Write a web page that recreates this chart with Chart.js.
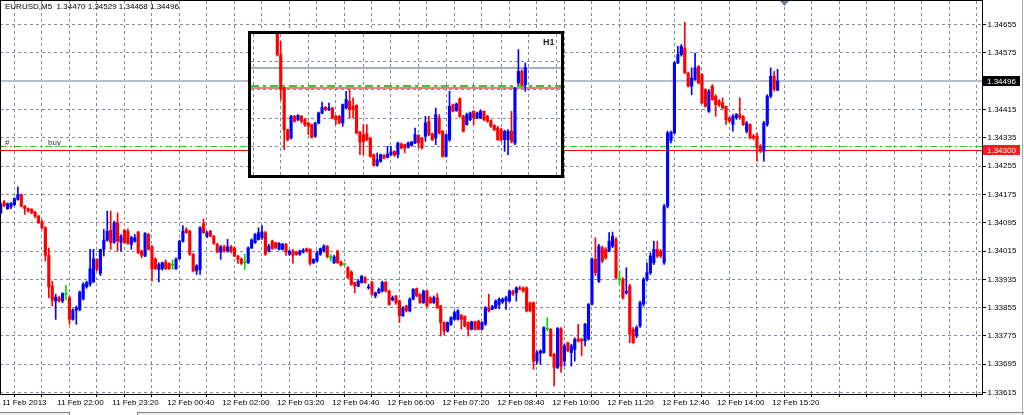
<!DOCTYPE html>
<html><head><meta charset="utf-8">
<script src="https://cdn.jsdelivr.net/npm/chart.js@4.4.1/dist/chart.umd.min.js"></script>
<style>
html,body{margin:0;padding:0;background:#fff;}
#wrap{position:relative;width:1024px;height:415px;overflow:hidden;font-family:'Liberation Sans',Arial,sans-serif;}
#main{position:absolute;left:0;top:0;}
#hdr{position:absolute;left:5px;top:2px;font-size:8px;line-height:10px;color:#000;white-space:pre;}
#inset{position:absolute;left:248px;top:31px;width:310px;height:141px;border:3px solid #000;background:#fff;}
#h1{position:absolute;left:0;top:0;}
#h1lbl{position:absolute;left:292px;top:3px;font-size:9px;line-height:10px;font-weight:bold;color:#222;}
#tabA{position:absolute;left:0;top:412px;width:69px;height:3px;border-top:1px solid #808080;border-right:1px solid #808080;background:#f0f0f0;}
#tabB{position:absolute;left:137px;top:412px;width:890px;height:3px;border-top:1px solid #808080;border-left:1px solid #808080;background:#f0f0f0;}
#edge{position:absolute;left:1022px;top:0;width:1px;height:415px;background:#a8a8a8;}
</style></head>
<body>
<div id="wrap">
  <canvas id="main" width="1024" height="415"></canvas>
  <div id="hdr"></div>
  <div id="inset"><canvas id="h1" width="310" height="141"></canvas><div id="h1lbl">H1</div></div>
  <div id="tabA"></div><div id="tabB"></div><div id="edge"></div>
</div>
<script>
// ---------- data (EURUSD M5, 11 Feb 20:40 -> 12 Feb 15:30) ----------
const symbol = 'EURUSD', period = 'M5', insetPeriod = 'H1';
const opens = [
1.34123,1.34154,1.34135,1.34140,1.34146,1.34161,1.34175,1.34142,1.34135,1.34133,
1.34125,1.34114,1.34097,1.34081,1.34003,1.33916,1.33874,1.33883,1.33874,1.33893,
1.33883,1.33822,1.33848,1.33850,1.33880,1.33914,1.33921,1.33928,1.33992,1.33952,
1.34020,1.34046,1.34074,1.34040,1.34095,1.34040,1.34074,1.34071,1.34034,1.34043,
1.34069,1.34015,1.34001,1.34062,1.34027,1.33993,1.33963,1.33965,1.33984,1.33980,
1.33975,1.33965,1.33993,1.34043,1.34076,1.34071,1.34006,1.33959,1.33963,1.34093,
1.34057,1.34071,1.34057,1.34034,1.34012,1.34027,1.34015,1.34027,1.34024,1.34001,
1.33993,1.33982,1.33982,1.34024,1.34039,1.34048,1.34053,1.34067,1.34015,1.34043,
1.34039,1.34020,1.34020,1.34034,1.34006,1.34015,1.34012,1.34006,1.34012,1.34022,
1.34020,1.33982,1.33987,1.34006,1.34015,1.34029,1.33996,1.33982,1.34015,1.33985,
1.33977,1.33968,1.33956,1.33926,1.33916,1.33926,1.33940,1.33911,1.33926,1.33888,
1.33897,1.33902,1.33927,1.33902,1.33877,1.33888,1.33874,1.33832,1.33860,1.33846,
1.33879,1.33909,1.33893,1.33869,1.33902,1.33883,1.33869,1.33883,1.33860,1.33813,
1.33789,1.33808,1.33822,1.33822,1.33833,1.33830,1.33813,1.33794,1.33815,1.33817,
1.33794,1.33808,1.33855,1.33850,1.33855,1.33864,1.33871,1.33874,1.33874,1.33902,
1.33897,1.33911,1.33911,1.33911,1.33869,1.33869,1.33704,1.33726,1.33728,1.33794,
1.33794,1.33723,1.33686,1.33796,1.33704,1.33756,1.33728,1.33737,1.33766,1.33766,
1.33761,1.33766,1.33865,1.33992,1.33930,1.34025,1.34020,1.34015,1.34029,1.34048,
1.33935,1.33935,1.33897,1.33916,1.33794,1.33775,1.33804,1.33865,1.33935,1.33954,
1.33982,1.34020,1.34015,1.33982,1.34142,1.34328,1.34349,1.34547,1.34570,1.34589,
1.34519,1.34481,1.34500,1.34537,1.34514,1.34472,1.34410,1.34481,1.34453,1.34439,
1.34434,1.34424,1.34392,1.34373,1.34392,1.34401,1.34396,1.34354,1.34373,1.34340,
1.34340,1.34312,1.34297,1.34373,1.34453,1.34509,1.34470];
const highs = [
1.34153,1.34158,1.34151,1.34153,1.34166,1.34197,1.34176,1.34144,1.34137,1.34135,
1.34128,1.34116,1.34103,1.34084,1.34024,1.33930,1.33893,1.33888,1.33897,1.33918,
1.33888,1.33852,1.33860,1.33902,1.33926,1.33930,1.34020,1.34020,1.33993,1.34020,
1.34076,1.34128,1.34128,1.34100,1.34123,1.34062,1.34076,1.34078,1.34057,1.34062,
1.34071,1.34018,1.34067,1.34065,1.34031,1.33996,1.33982,1.33984,1.33990,1.33982,
1.33990,1.33996,1.34046,1.34087,1.34081,1.34074,1.34008,1.33977,1.34084,1.34106,
1.34071,1.34074,1.34059,1.34037,1.34031,1.34031,1.34048,1.34031,1.34027,1.34003,
1.33996,1.34006,1.34027,1.34050,1.34065,1.34081,1.34087,1.34071,1.34034,1.34046,
1.34040,1.34039,1.34037,1.34037,1.34018,1.34020,1.34015,1.34018,1.34022,1.34024,
1.34022,1.33993,1.34015,1.34024,1.34033,1.34031,1.34006,1.34003,1.34018,1.33987,
1.33980,1.33971,1.33959,1.33927,1.33935,1.33946,1.33943,1.33921,1.33930,1.33899,
1.33911,1.33930,1.33930,1.33905,1.33888,1.33890,1.33877,1.33858,1.33862,1.33883,
1.33909,1.33911,1.33895,1.33905,1.33905,1.33886,1.33888,1.33895,1.33862,1.33815,
1.33815,1.33830,1.33846,1.33850,1.33836,1.33832,1.33815,1.33817,1.33817,1.33820,
1.33815,1.33858,1.33893,1.33862,1.33877,1.33883,1.33883,1.33888,1.33905,1.33905,
1.33914,1.33916,1.33914,1.33914,1.33871,1.33871,1.33733,1.33736,1.33801,1.33827,
1.33796,1.33726,1.33799,1.33799,1.33752,1.33758,1.33752,1.33770,1.33808,1.33768,
1.33811,1.33867,1.33996,1.34053,1.34034,1.34029,1.34025,1.34067,1.34069,1.34053,
1.33959,1.33940,1.33968,1.33921,1.33799,1.33804,1.33874,1.33940,1.33982,1.34010,
1.34043,1.34043,1.34020,1.34147,1.34354,1.34354,1.34551,1.34594,1.34599,1.34662,
1.34521,1.34533,1.34575,1.34539,1.34517,1.34474,1.34472,1.34486,1.34457,1.34443,
1.34448,1.34426,1.34394,1.34401,1.34404,1.34448,1.34398,1.34382,1.34375,1.34345,
1.34349,1.34316,1.34382,1.34457,1.34533,1.34523,1.34529];
const lows = [
1.34121,1.34140,1.34133,1.34135,1.34144,1.34159,1.34140,1.34119,1.34125,1.34121,
1.34109,1.34093,1.34078,1.33987,1.33883,1.33860,1.33822,1.33871,1.33869,1.33877,
1.33808,1.33820,1.33808,1.33846,1.33877,1.33910,1.33916,1.33926,1.33959,1.33946,
1.34001,1.34043,1.34020,1.34037,1.34015,1.34015,1.34037,1.34034,1.34020,1.34040,
1.34008,1.33996,1.33999,1.34018,1.33930,1.33963,1.33928,1.33961,1.33963,1.33963,
1.33963,1.33963,1.33992,1.34040,1.34065,1.34003,1.33956,1.33949,1.33949,1.34065,
1.34053,1.34055,1.34034,1.34010,1.33992,1.34012,1.34012,1.34010,1.33999,1.33980,
1.33977,1.33963,1.33980,1.34022,1.34037,1.34046,1.34048,1.34003,1.34012,1.34020,
1.34022,1.34018,1.34018,1.34003,1.34003,1.33980,1.34003,1.34003,1.34010,1.34012,
1.33975,1.33979,1.33984,1.34003,1.34012,1.33996,1.33987,1.33980,1.33980,1.33973,
1.33975,1.33937,1.33918,1.33897,1.33914,1.33924,1.33924,1.33907,1.33890,1.33883,
1.33895,1.33899,1.33899,1.33862,1.33874,1.33864,1.33813,1.33830,1.33843,1.33843,
1.33877,1.33886,1.33867,1.33867,1.33858,1.33867,1.33867,1.33852,1.33775,1.33777,
1.33786,1.33805,1.33820,1.33820,1.33794,1.33801,1.33775,1.33792,1.33792,1.33792,
1.33792,1.33805,1.33843,1.33849,1.33852,1.33852,1.33867,1.33850,1.33871,1.33890,
1.33874,1.33905,1.33899,1.33843,1.33843,1.33681,1.33695,1.33695,1.33726,1.33789,
1.33717,1.33634,1.33683,1.33672,1.33690,1.33730,1.33690,1.33704,1.33758,1.33719,
1.33747,1.33764,1.33862,1.33945,1.33926,1.33982,1.33992,1.34013,1.34025,1.33935,
1.33921,1.33879,1.33893,1.33756,1.33754,1.33770,1.33799,1.33860,1.33930,1.33949,
1.33977,1.33996,1.33996,1.33977,1.34137,1.34321,1.34347,1.34545,1.34566,1.34517,
1.34479,1.34457,1.34498,1.34488,1.34432,1.34422,1.34407,1.34441,1.34396,1.34424,
1.34417,1.34373,1.34379,1.34354,1.34387,1.34387,1.34370,1.34349,1.34332,1.34330,
1.34269,1.34293,1.34269,1.34368,1.34448,1.34467,1.34468];
const closes = [
1.34147,1.34144,1.34149,1.34150,1.34163,1.34175,1.34142,1.34135,1.34129,1.34123,
1.34114,1.34095,1.34081,1.34003,1.33914,1.33876,1.33885,1.33874,1.33895,1.33893,
1.33822,1.33848,1.33855,1.33899,1.33921,1.33926,1.33965,1.33993,1.33963,1.34020,
1.34046,1.34071,1.34039,1.34095,1.34043,1.34057,1.34039,1.34037,1.34053,1.34053,
1.34010,1.34003,1.34065,1.34020,1.33965,1.33965,1.33977,1.33982,1.33965,1.33965,
1.33975,1.33992,1.34043,1.34071,1.34067,1.34006,1.33959,1.33973,1.34081,1.34067,
1.34067,1.34057,1.34037,1.34012,1.34027,1.34015,1.34027,1.34015,1.34001,1.33992,
1.33980,1.33982,1.34024,1.34046,1.34062,1.34067,1.34069,1.34006,1.34029,1.34022,
1.34024,1.34037,1.34034,1.34012,1.34015,1.34003,1.34005,1.34015,1.34018,1.34015,
1.33980,1.33992,1.34010,1.34022,1.34029,1.33999,1.33996,1.33999,1.33982,1.33975,
1.33977,1.33940,1.33921,1.33916,1.33930,1.33944,1.33926,1.33914,1.33893,1.33897,
1.33907,1.33926,1.33902,1.33864,1.33883,1.33869,1.33832,1.33855,1.33846,1.33879,
1.33907,1.33888,1.33869,1.33902,1.33860,1.33869,1.33883,1.33855,1.33813,1.33789,
1.33813,1.33827,1.33841,1.33846,1.33822,1.33803,1.33794,1.33815,1.33794,1.33794,
1.33813,1.33855,1.33846,1.33858,1.33874,1.33879,1.33879,1.33883,1.33902,1.33893,
1.33911,1.33907,1.33902,1.33846,1.33846,1.33704,1.33728,1.33733,1.33799,1.33794,
1.33719,1.33686,1.33796,1.33690,1.33747,1.33733,1.33747,1.33766,1.33761,1.33761,
1.33808,1.33864,1.33993,1.33954,1.34029,1.33987,1.33996,1.34043,1.34057,1.33940,
1.33935,1.33883,1.33902,1.33780,1.33756,1.33799,1.33869,1.33935,1.33954,1.34001,
1.34020,1.34001,1.34001,1.34142,1.34349,1.34351,1.34547,1.34570,1.34594,1.34519,
1.34481,1.34504,1.34533,1.34490,1.34434,1.34424,1.34467,1.34443,1.34429,1.34429,
1.34420,1.34387,1.34382,1.34396,1.34401,1.34392,1.34373,1.34377,1.34335,1.34335,
1.34307,1.34297,1.34377,1.34453,1.34509,1.34472,1.34496];

const xTickLabels = ['11 Feb 2013','11 Feb 22:00','11 Feb 23:20','12 Feb 00:40','12 Feb 02:00',
  '12 Feb 03:20','12 Feb 04:40','12 Feb 06:00','12 Feb 07:20','12 Feb 08:40','12 Feb 10:00',
  '12 Feb 11:20','12 Feb 12:40','12 Feb 14:00','12 Feb 15:20'];
const xGridIdx = [0,8,16,24,32,40,48,56,64,72,80,88,96,104,112,120,128,136,144,152,160,168,176,184,192,200,208,216,224,232,240,248,256,264,272,280];
const yTicks = [1.33615,1.33695,1.33775,1.33855,1.33935,1.34015,1.34095,1.34175,1.34255,1.34335,1.34415,1.34495,1.34575,1.34655];

const bidPrice = 1.34496;     // current bid line
const orderPrice = 1.34312;   // buy order line
const stopPrice = 1.34300;    // red level
const orderTicket = '#', orderType = 'buy';

// ---------- inset H1 data ----------
const h1Opens = [
1.34843,1.34634,1.34297,1.33875,1.33791,1.34010,1.33976,1.34010,1.33976,1.33943,
1.33926,1.33808,1.33943,1.34044,1.34101,1.34078,1.34094,1.34010,1.34010,1.33943,
1.34094,1.34162,1.34111,1.34121,1.33852,1.33825,1.33832,1.33791,1.33623,1.33515,
1.33555,1.33616,1.33596,1.33623,1.33656,1.33623,1.33730,1.33724,1.33697,1.33717,
1.33741,1.33818,1.33791,1.33808,1.33960,1.33832,1.33791,1.33993,1.33859,1.33606,
1.33774,1.34128,1.34067,1.34189,1.34010,1.33926,1.33976,1.34061,1.33993,1.33993,
1.34061,1.34010,1.33966,1.33919,1.33892,1.33875,1.33774,1.33774,1.33859,1.33741,
1.34347,1.34465,1.34330];
const h1Highs = [
1.34850,1.34768,1.34300,1.33880,1.34020,1.34020,1.34027,1.34020,1.33987,1.33950,
1.33933,1.33950,1.34054,1.34155,1.34111,1.34145,1.34101,1.34020,1.34020,1.34135,
1.34263,1.34280,1.34196,1.34128,1.33859,1.33926,1.33926,1.33798,1.33629,1.33640,
1.33629,1.33623,1.33707,1.33707,1.33663,1.33751,1.33741,1.33730,1.33751,1.33757,
1.33892,1.33825,1.33798,1.34010,1.34010,1.33842,1.34094,1.34027,1.33869,1.33832,
1.34263,1.34135,1.34145,1.34196,1.34020,1.34044,1.34054,1.34067,1.34054,1.34078,
1.34067,1.34020,1.33976,1.33926,1.33909,1.33892,1.33869,1.33875,1.34061,1.34300,
1.34684,1.34480,1.34549];
const h1Lows = [
1.34620,1.34179,1.33673,1.33760,1.33780,1.33950,1.33966,1.33943,1.33909,1.33825,
1.33791,1.33798,1.33933,1.34034,1.34067,1.34067,1.33987,1.33926,1.33933,1.33909,
1.34084,1.33993,1.33993,1.33832,1.33623,1.33623,1.33764,1.33596,1.33505,1.33505,
1.33545,1.33579,1.33589,1.33616,1.33606,1.33589,1.33680,1.33640,1.33690,1.33707,
1.33735,1.33690,1.33680,1.33757,1.33815,1.33764,1.33724,1.33832,1.33596,1.33596,
1.33757,1.34054,1.34061,1.34000,1.33852,1.33919,1.33966,1.33926,1.33987,1.33987,
1.33966,1.33950,1.33899,1.33865,1.33764,1.33757,1.33656,1.33623,1.33741,1.33724,
1.34330,1.34320,1.34263];
const h1Closes = [
1.34634,1.34280,1.33875,1.33774,1.34010,1.33960,1.34020,1.33960,1.33926,1.33909,
1.33798,1.33943,1.34044,1.34101,1.34078,1.34094,1.33993,1.33976,1.33943,1.34128,
1.34179,1.34078,1.34078,1.33842,1.33751,1.33757,1.33774,1.33606,1.33515,1.33572,
1.33623,1.33589,1.33629,1.33650,1.33616,1.33741,1.33690,1.33690,1.33741,1.33751,
1.33825,1.33741,1.33690,1.33943,1.33825,1.33774,1.34027,1.33842,1.33606,1.33825,
1.34111,1.34061,1.34135,1.34010,1.33859,1.34027,1.34044,1.33993,1.34044,1.34061,
1.33976,1.33960,1.33909,1.33875,1.33774,1.33774,1.33859,1.33859,1.33757,1.34297,
1.34465,1.34330,1.34499];
const h1GridY = [1.33708,1.33993,1.34278,1.34563];
const h1GridX = [-3,5,13,21,29,37,45,53,61,69,77];

// ---------- styling ----------
Chart.defaults.font.family = "'Liberation Sans', Arial, sans-serif";
Chart.defaults.font.size = 8;
Chart.defaults.color = '#000';
const UP = '#0000ff', DN = '#ff0000', DOJI = '#00dd00';
const GRID = 'rgba(112,128,144,0.9)';
function cColor(o, c) { return c > o ? UP : (c < o ? DN : DOJI); }
function candleSets(O, H, L, C, bodyW) {
  const cols = O.map((o, i) => cColor(o, C[i]));
  return [
    { label: 'body', data: O.map((o, i) => ({ x: i, y: [o, C[i]] })), barThickness: bodyW, minBarLength: 1,
      backgroundColor: cols, borderWidth: 0, grouped: false, borderSkipped: false },
    { label: 'wick', data: O.map((o, i) => ({ x: i, y: [L[i], H[i]] })), barThickness: 1,
      backgroundColor: cols, borderWidth: 0, grouped: false, borderSkipped: false }
  ];
}
function hline(ctx, a, y, color, w, dash) {
  ctx.save();
  const yy = (w % 2 === 1) ? Math.round(y) + 0.5 : Math.round(y);
  ctx.strokeStyle = color; ctx.lineWidth = w; ctx.setLineDash(dash);
  ctx.beginPath(); ctx.moveTo(a.left, yy); ctx.lineTo(a.right, yy); ctx.stroke();
  ctx.restore();
}
function tag(ctx, x, y, text, bg) {
  const yy = Math.round(y);
  ctx.fillStyle = bg; ctx.fillRect(x, yy - 5, 37, 10);
  ctx.fillStyle = '#fff'; ctx.font = "8px 'Liberation Sans', Arial, sans-serif";
  ctx.textAlign = 'left'; ctx.textBaseline = 'middle';
  ctx.fillText(text, x + 4, yy + 0.5);
}

document.getElementById('hdr').textContent =
  symbol + ',' + period + '  ' + [opens, highs, lows, closes].map(a => a[a.length - 1].toFixed(5)).join(' ');

const mainDecor = {
  id: 'mainDecor',
  beforeDatasetsDraw(chart) {
    const { ctx, chartArea: a, scales: { y } } = chart;
    hline(ctx, a, y.getPixelForValue(bidPrice), '#b7bfca', 2, []);
    hline(ctx, a, y.getPixelForValue(orderPrice), '#2ecc2e', 1, [7, 3, 2, 3]);
    hline(ctx, a, y.getPixelForValue(stopPrice), '#ff0000', 1, []);
  },
  afterDraw(chart) {
    const { ctx, chartArea: a, scales: { x, y } } = chart;
    ctx.save();
    ctx.strokeStyle = '#000'; ctx.lineWidth = 1; ctx.setLineDash([]);
    ctx.strokeRect(a.left + 0.5, a.top - 0.5, a.right - a.left, a.bottom - a.top + 1);
    tag(ctx, a.right + 1, y.getPixelForValue(bidPrice), bidPrice.toFixed(5), '#000');
    tag(ctx, a.right + 1, y.getPixelForValue(stopPrice), stopPrice.toFixed(5), '#ff1a1a');
    const oy = y.getPixelForValue(orderPrice);
    ctx.font = "8px 'Liberation Sans', Arial, sans-serif"; ctx.fillStyle = '#333';
    ctx.textAlign = 'left'; ctx.textBaseline = 'alphabetic';
    ctx.fillText(orderTicket, a.left + 5, oy - 1.5);
    ctx.fillText(orderType, a.left + 48, oy - 1.5);
    const tx = x.getPixelForValue(228);
    ctx.fillStyle = '#708090';
    ctx.beginPath(); ctx.moveTo(tx - 4.5, a.top); ctx.lineTo(tx + 4.5, a.top); ctx.lineTo(tx, a.top + 5); ctx.closePath(); ctx.fill();
    ctx.restore();
  }
};

new Chart(document.getElementById('main'), {
  type: 'bar',
  data: { datasets: candleSets(opens, highs, lows, closes, 2.5) },
  options: {
    responsive: false, animation: false, events: [], devicePixelRatio: 1,
    layout: { padding: { top: 1, left: 0, right: 0, bottom: 0 } },
    plugins: { legend: { display: false }, tooltip: { enabled: false } },
    scales: {
      x: {
        type: 'linear', position: 'bottom', min: -0.2036, max: 285.47, offset: false,
        afterBuildTicks: s => { s.ticks = xGridIdx.map(v => ({ value: v })); },
        afterFit: s => { s.height = 21; s.paddingLeft = 0; s.paddingRight = 0; },
        ticks: { autoSkip: false, maxRotation: 0, minRotation: 0, align: 'start', padding: 1, labelOffset: 1.5,
          color: '#000', font: { size: 8 },
          callback: v => (v % 16 === 0 && xTickLabels[v / 16]) ? xTickLabels[v / 16] : '' },
        grid: { color: GRID, lineWidth: 1, drawTicks: true, tickLength: 3, tickColor: '#000', tickBorderDash: [] },
        border: { display: false, dash: [3, 3] }
      },
      y: {
        type: 'linear', position: 'right', min: 1.33611, max: 1.34722,
        afterBuildTicks: s => { s.ticks = yTicks.map(v => ({ value: v })); },
        afterFit: s => { s.width = 42; s.paddingTop = 0; s.paddingBottom = 0; },
        ticks: { padding: 1.5, color: '#000', font: { size: 8 }, callback: v => Number(v).toFixed(5) },
        grid: { color: GRID, lineWidth: 1, drawTicks: true, tickLength: 4, tickColor: '#000', tickBorderDash: [] },
        border: { display: false, dash: [3, 3] }
      }
    }
  },
  plugins: [mainDecor]
});

const insetDecor = {
  id: 'insetDecor',
  beforeDatasetsDraw(chart) {
    const { ctx, chartArea: a, scales: { y } } = chart;
    hline(ctx, a, y.getPixelForValue(bidPrice), '#a3adbb', 2, []);
    hline(ctx, a, y.getPixelForValue(stopPrice), '#f27b7b', 2, []);
    hline(ctx, a, y.getPixelForValue(orderPrice), '#2ecc2e', 2, [8, 4, 3, 4]);
  }
};

new Chart(document.getElementById('h1'), {
  type: 'bar',
  data: { datasets: candleSets(h1Opens, h1Highs, h1Lows, h1Closes, 2.5) },
  options: {
    responsive: false, animation: false, events: [], devicePixelRatio: 1,
    layout: { padding: 0 },
    plugins: { legend: { display: false }, tooltip: { enabled: false } },
    scales: {
      x: {
        type: 'linear', min: -7.636, max: 82.37, offset: false,
        afterBuildTicks: s => { s.ticks = h1GridX.map(v => ({ value: v })); },
        afterFit: s => { s.height = 0; s.paddingLeft = 0; s.paddingRight = 0; },
        ticks: { display: false },
        grid: { color: GRID, lineWidth: 1, drawTicks: false },
        border: { display: false, dash: [3, 3] }
      },
      y: {
        type: 'linear', position: 'left', min: 1.33417, max: 1.348425,
        afterBuildTicks: s => { s.ticks = h1GridY.map(v => ({ value: v })); },
        afterFit: s => { s.width = 0; s.paddingTop = 0; s.paddingBottom = 0; },
        ticks: { display: false },
        grid: { color: GRID, lineWidth: 1, drawTicks: false },
        border: { display: false, dash: [3, 3] }
      }
    }
  },
  plugins: [insetDecor]
});
document.getElementById('h1lbl').textContent = insetPeriod;
</script>
</body></html>
